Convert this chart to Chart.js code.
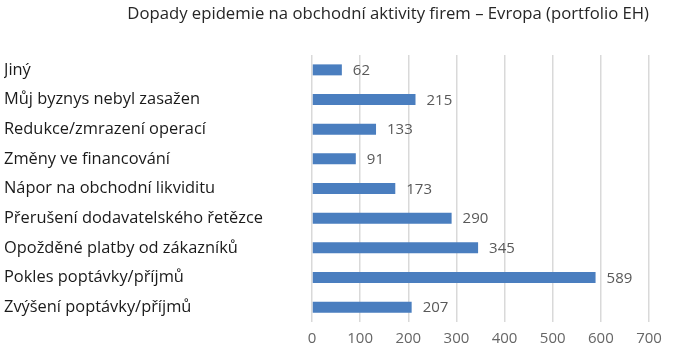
<!DOCTYPE html>
<html><head><meta charset="utf-8">
<script src="https://cdn.jsdelivr.net/npm/chart.js@4/dist/chart.umd.min.js"></script>
<style>html,body{margin:0;padding:0;background:#fff}#wrap{width:674px;height:358px}</style>
</head><body><div id="wrap"><canvas id="c" width="674" height="358"></canvas></div>
<script>
const title = "Dopady epidemie na obchodní aktivity firem – Evropa (portfolio EH)";
const categories = ["Jiný","Můj byznys nebyl zasažen","Redukce/zmrazení operací","Změny ve financování","Nápor na obchodní likviditu","Přerušení dodavatelského řetězce","Opožděné platby od zákazníků","Pokles poptávky/příjmů","Zvýšení poptávky/příjmů"];
const values = [62,215,133,91,173,290,345,589,207];
const xTicks = [0,100,200,300,400,500,600,700];

const FONT = "'Open Sans', 'Liberation Sans', sans-serif";

const labelPlugin = {
  id: 'barLabels',
  afterDatasetsDraw(chart){
    const ctx = chart.ctx;
    const meta = chart.getDatasetMeta(0);
    ctx.save();
    ctx.font = "15px " + FONT;
    ctx.fillStyle = "#595959";
    ctx.textAlign = "left";
    ctx.textBaseline = "middle";
    meta.data.forEach((el,i)=>{
      ctx.fillText(String(values[i]), el.x + 11, el.y + 1);
    });
    ctx.restore();
  }
};

new Chart(document.getElementById('c'), {
  type: 'bar',
  data: { labels: categories, datasets: [{ data: values, backgroundColor: '#4a7ebf', borderWidth: 0, categoryPercentage: 0.37, barPercentage: 1 }] },
  options: {
    indexAxis: 'y',
    responsive: false,
    animation: false,
    layout: { padding: { left: 4, right: 25, top: 0, bottom: 0 } },
    plugins: {
      legend: { display: false },
      tooltip: { enabled: false },
      title: { display: true, text: title, align: 'end', color: '#262626', font: { family: FONT, size: 16.7, weight: 'normal' }, padding: { top: 4, bottom: 31 } }
    },
    scales: {
      x: {
        min: 0, max: 700,
        afterBuildTicks(s){ s.ticks = xTicks.map(v=>({value:v})); },
        grid: { color: '#d9d9d9', lineWidth: 1.5, drawTicks: false },
        border: { display: false },
        ticks: { color: '#666', font: { family: FONT, size: 15 }, padding: 8 },
        afterFit(s){ s.height = 36; }
      },
      y: {
        grid: { display: false, drawTicks: false },
        border: { display: false },
        ticks: { crossAlign: 'far', color: '#1a1a1a', font: { family: FONT, size: 16.4 }, padding: 0, autoSkip: false },
        afterFit(s){ s.width = 308; }
      }
    }
  },
  plugins: [labelPlugin]
});
</script></body></html>
